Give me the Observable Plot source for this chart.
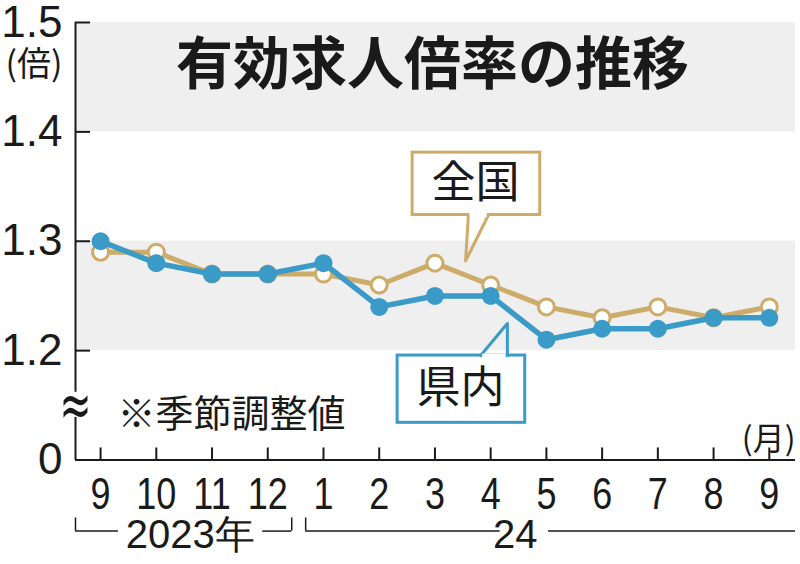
<!DOCTYPE html>
<html>
<head>
<meta charset="utf-8">
<script src="https://cdn.jsdelivr.net/npm/d3@7"></script>
<script src="https://cdn.jsdelivr.net/npm/@observablehq/plot@0.6"></script>
<style>
  html, body { margin: 0; padding: 0; background: #fff; }
  #chart svg { display: block; }
</style>
</head>
<body>
<div id="chart"></div>
<script>
// ---- data ----
const months = ["9", "10", "11", "12", "1", "2", "3", "4", "5", "6", "7", "8", "9"];
const national = [1.29, 1.29, 1.27, 1.27, 1.27, 1.26, 1.28, 1.26, 1.24, 1.23, 1.24, 1.23, 1.24];
const prefecture = [1.30, 1.28, 1.27, 1.27, 1.28, 1.24, 1.25, 1.25, 1.21, 1.22, 1.22, 1.23, 1.23];
const yTickValues = [1.1, 1.2, 1.3, 1.4, 1.5];   // 1.1 stands for the "0" below the axis break
const yTickLabels = ["0", "1.2", "1.3", "1.4", "1.5"];
const bands = [[1.2, 1.3], [1.4, 1.5]];
const title = "有効求人倍率の推移";
const unitY = "(倍)";
const unitX = "(月)";
const note = "※季節調整値";
const seriesNames = ["全国", "県内"];
const yearLabels = ["2023年", "24"];

// ---- layout ----
const idx = months.map((_, i) => i);
const natData = national.map((v, i) => ({i, v}));
const prefData = prefecture.map((v, i) => ({i, v}));
const xDom = [-0.45, 12.47];
const TAN = "#cdab69";
const BLUE = "#3a9ac8";
const INK = "#1a1a1a";
const numFont = "'Liberation Sans', sans-serif";
const jpFont = "'Noto Sans CJK JP', sans-serif";

const chart = Plot.plot({
  width: 800,
  height: 564,
  marginLeft: 75,
  marginRight: 5,
  marginTop: 22,
  marginBottom: 104.5,
  x: {type: "linear", domain: xDom, axis: null},
  y: {type: "linear", domain: [1.1, 1.5], axis: null},
  style: {fontFamily: jpFont, color: INK, background: "#fff", overflow: "visible"},
  marks: [
    // shaded bands
    Plot.rect(bands, {x1: xDom[0], x2: xDom[1], y1: d => d[0], y2: d => d[1], fill: "#efefef"}),

    // y axis (broken)
    Plot.ruleX([xDom[0]], {y1: 1.162, y2: 1.5, stroke: INK, strokeWidth: 2}),
    Plot.ruleX([xDom[0]], {y1: 1.1, y2: 1.139, stroke: INK, strokeWidth: 2}),
    Plot.ruleY(yTickValues.slice(1), {x1: xDom[0], x2: -0.18, stroke: INK, strokeWidth: 2}),
    Plot.text(["≈"], {x: xDom[0], y: 1.149, fontSize: 62, fontFamily: "'DejaVu Sans', sans-serif", fill: INK, lineAnchor: "middle", className: "brk"}),
    Plot.axisY({
      ticks: yTickValues, tickFormat: d => yTickLabels[yTickValues.indexOf(d)],
      anchor: "left", tickSize: 0, tickPadding: 13, fontSize: 44, fontFamily: numFont,
      fill: INK, label: null
    }),

    // x axis
    Plot.ruleY([1.1], {stroke: INK, strokeWidth: 2}),
    Plot.ruleX(idx, {x: d => d, y1: 1.1, y2: 1.111, stroke: INK, strokeWidth: 2}),
    Plot.axisX({
      ticks: idx, tickFormat: i => months[i],
      tickSize: 0, tickPadding: 17, fontSize: 45, fontFamily: numFont,
      fill: INK, label: null, className: "xticks"
    }),

    // title and units
    Plot.text([title], {frameAnchor: "top", dx: -3, dy: 43, fontSize: 57, fontWeight: "bold", fill: INK, lineAnchor: "middle"}),
    Plot.text([unitY], {frameAnchor: "top-left", textAnchor: "start", dx: -70, dy: 43, fontSize: 34, fill: INK, lineAnchor: "middle"}),
    Plot.text([note], {frameAnchor: "bottom-left", textAnchor: "start", dx: 42, dy: -45, fontSize: 38, fill: INK, lineAnchor: "middle"}),
    Plot.text([unitX], {frameAnchor: "bottom-right", textAnchor: "end", dy: -20, fontSize: 32, fill: INK, lineAnchor: "middle"}),

    // series
    Plot.line(natData, {x: "i", y: "v", stroke: TAN, strokeWidth: 5}),
    Plot.dot(natData, {x: "i", y: "v", r: 8, fill: "#fff", stroke: TAN, strokeWidth: 3}),
    Plot.line(prefData, {x: "i", y: "v", stroke: BLUE, strokeWidth: 5.5}),
    Plot.dot(prefData, {x: "i", y: "v", r: 9, fill: BLUE}),

    // 全国 callout
    Plot.rect([0], {x1: 5.60, x2: 7.89, y1: 1.324, y2: 1.381, fill: "#fff", stroke: TAN, strokeWidth: 3}),
    Plot.line([[6.60, 1.324], [6.55, 1.282], [6.96, 1.324]], {x: d => d[0], y: d => d[1], stroke: TAN, strokeWidth: 3}),
    Plot.link([0], {x1: 6.62, y1: 1.324, x2: 6.93, y2: 1.324, stroke: "#fff", strokeWidth: 4}),
    Plot.text([seriesNames[0]], {x: 6.73, y: 1.352, fontSize: 44, fill: INK, lineAnchor: "middle"}),

    // 県内 callout
    Plot.rect([0], {x1: 5.33, x2: 7.62, y1: 1.134, y2: 1.1955, fill: "#fff", stroke: BLUE, strokeWidth: 3}),
    Plot.line([[6.82, 1.1955], [7.30, 1.2248], [7.30, 1.1955]], {x: d => d[0], y: d => d[1], stroke: BLUE, strokeWidth: 3}),
    Plot.link([0], {x1: 6.85, y1: 1.1955, x2: 7.27, y2: 1.1955, stroke: "#fff", strokeWidth: 4}),
    Plot.text([seriesNames[1]], {x: 6.46, y: 1.1654, fontSize: 44, fill: INK, lineAnchor: "middle"}),

    // year brackets
    Plot.ruleY([1.035], {x1: xDom[0], x2: 0.32, stroke: INK, strokeWidth: 1.5}),
    Plot.ruleY([1.035], {x1: 2.91, x2: 3.43, stroke: INK, strokeWidth: 1.5}),
    Plot.ruleX([xDom[0], 3.43], {y1: 1.035, y2: 1.047, stroke: INK, strokeWidth: 1.5}),
    Plot.text([yearLabels[0]], {x: 1.61, y: 1.031, fontSize: 40, fontFamily: numFont, fill: INK, lineAnchor: "middle"}),
    Plot.ruleY([1.035], {x1: 3.68, x2: 7.17, stroke: INK, strokeWidth: 1.5}),
    Plot.ruleY([1.035], {x1: 8.04, x2: xDom[1], stroke: INK, strokeWidth: 1.5}),
    Plot.ruleX([3.68], {y1: 1.035, y2: 1.047, stroke: INK, strokeWidth: 1.5}),
    Plot.text([yearLabels[1]], {x: 7.44, y: 1.031, fontSize: 40, fontFamily: numFont, fill: INK, lineAnchor: "middle"})
  ]
});

document.getElementById("chart").appendChild(chart);

// condense the month tick labels and the break glyph, as in the reference typeface
d3.select(chart).selectAll(".xticks text").each(function () {
  const w = this.getComputedTextLength();
  this.setAttribute("textLength", (w * 0.8).toFixed(1));
  this.setAttribute("lengthAdjust", "spacingAndGlyphs");
});
d3.select(chart).selectAll(".brk text").each(function () {
  this.setAttribute("textLength", "32");
  this.setAttribute("lengthAdjust", "spacingAndGlyphs");
});
</script>
</body>
</html>
